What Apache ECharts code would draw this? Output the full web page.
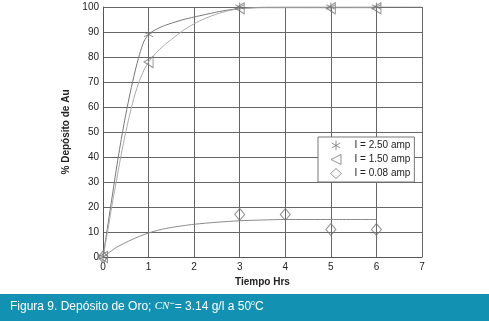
<!DOCTYPE html>
<html><head><meta charset="utf-8">
<script src="https://cdn.jsdelivr.net/npm/echarts@6/dist/echarts.min.js"></script>
<style>html,body{margin:0;padding:0;background:#fff}#c{width:489px;height:322px}</style>
</head><body><div id="c"></div>
<script>
// Measured points
const pts250 = [[0,0],[1,89],[3,100],[5,100],[6,100]];
const pts150 = [[0,0],[1,78],[3,99.5],[5,99.5],[6,99.5]];
const pts008 = [[0,0],[3,17],[4,17],[5,11],[6,11]];
// Fitted curves
const curve250 = [[0,0],[0.1,12],[0.2,24],[0.3,36],[0.4,47],[0.5,57],[0.6,66],[0.7,74],[0.8,81],[0.9,86.3],[1,89],[1.1,90.4],[1.2,91.4],[1.3,92.2],[1.4,92.9],[1.5,93.5],[1.75,94.9],[2,96],[2.25,97],[2.5,98],[2.75,98.8],[3,99.4],[3.5,99.9],[4,100],[5,100],[6,100],[7,100]];
const curve150 = [[0,0],[0.1,10],[0.2,21],[0.3,31],[0.4,41],[0.5,50],[0.6,58],[0.7,65],[0.8,70.5],[0.9,74.8],[1,78],[1.1,80.3],[1.2,82.3],[1.3,84],[1.4,85.6],[1.5,87],[1.75,90.5],[2,93.3],[2.25,95.5],[2.5,97.2],[2.75,98.5],[3,99.3],[3.5,99.7],[4,99.7],[5,99.7],[6,99.7]];
const curve008 = [[0,0],[0.15,2],[0.3,3.9],[0.5,5.8],[0.75,7.9],[1,9.6],[1.25,10.9],[1.5,11.8],[1.75,12.5],[2,13.1],[2.5,13.9],[3,14.5],[3.5,14.8],[4,15],[5,15],[6,15]];
const seriesNames = ['I = 2.50 amp','I = 1.50 amp','I = 0.08 amp'];
const xTicks = [0,1,2,3,4,5,6,7];
const yTicks = [0,10,20,30,40,50,60,70,80,90,100];

const asterisk = 'path://M5,0L5,10M0.7,2.5L9.3,7.5M0.7,7.5L9.3,2.5';
const triLeft = 'path://M10,0L0,5L10,10Z';
const markerStyle = {color:'rgba(0,0,0,0)', borderColor:'#777', borderWidth:1};

const chart = echarts.init(document.getElementById('c'));
chart.setOption({
  animation:false,
  textStyle:{fontFamily:'Liberation Sans, Arial, sans-serif'},
  grid:{left:103, right:67, top:7, bottom:65},
  xAxis:{type:'value', min:0, max:7, interval:1,
    name:'Tiempo Hrs', nameLocation:'middle', nameGap:15,
    nameTextStyle:{fontWeight:'bold', fontSize:10, color:'#222'},
    axisLine:{lineStyle:{color:'#555'}}, axisTick:{show:false},
    axisLabel:{fontSize:10, color:'#222', margin:5},
    splitLine:{show:true, lineStyle:{color:'#666', width:1}}},
  yAxis:{type:'value', min:0, max:100, interval:10,
    name:'% Depósito de Au', nameLocation:'middle', nameGap:20,
    nameTextStyle:{fontWeight:'bold', fontSize:10, color:'#222'},
    axisLine:{show:true, lineStyle:{color:'#555'}}, axisTick:{show:false},
    axisLabel:{fontSize:10, color:'#222', margin:4},
    splitLine:{show:true, lineStyle:{color:'#666', width:1}}},
  legend:{orient:'vertical', left:318, top:137, padding:[3,4,3,12],
    backgroundColor:'#fff', borderColor:'#777', borderWidth:1, borderRadius:0,
    itemGap:3, itemWidth:11, itemHeight:10,
    textStyle:{fontSize:10, color:'#222', padding:[0,0,0,8]},
    itemStyle:markerStyle,
    data:[{name:seriesNames[0], icon:asterisk},{name:seriesNames[1], icon:triLeft},{name:seriesNames[2], icon:'diamond'}]},
  graphic:[
    {type:'rect', left:0, top:294, shape:{width:489, height:27}, style:{fill:'#1391b3'}, silent:true},
    {type:'text', left:10, top:299, style:{
      text:'{a|Figura 9. Depósito de Oro; }{b|CN}{c|−}{a|= 3.14 g/l a 50}{d|o}{a|C}',
      rich:{
        a:{fill:'#fff', fontSize:12, fontFamily:'Liberation Sans, Arial, sans-serif'},
        b:{fill:'#fff', fontSize:11, fontStyle:'italic', fontFamily:'Liberation Serif, Times New Roman, serif'},
        c:{fill:'#fff', fontSize:9, verticalAlign:'top', padding:[0,0,6,0], fontFamily:'Liberation Sans, Arial, sans-serif'},
        d:{fill:'#fff', fontSize:7, padding:[0,0,6,0], fontFamily:'Liberation Sans, Arial, sans-serif'}
      }}}
  ],
  series:[
    {type:'line', data:curve250, smooth:0.25, showSymbol:false, lineStyle:{color:'#777', width:1}, silent:true, z:2},
    {type:'line', data:curve150, smooth:0.25, showSymbol:false, lineStyle:{color:'#aaa', width:1}, silent:true, z:2},
    {type:'line', data:curve008, smooth:0.25, showSymbol:false, lineStyle:{color:'#8a8a8a', width:1}, silent:true, z:2},
    {name:seriesNames[0], type:'scatter', data:pts250, symbol:asterisk, symbolSize:9, itemStyle:markerStyle, z:3},
    {name:seriesNames[1], type:'scatter', data:pts150, symbol:triLeft, symbolSize:[9,11], itemStyle:markerStyle, z:3},
    {name:seriesNames[2], type:'scatter', data:pts008, symbol:'diamond', symbolSize:[10,12], itemStyle:markerStyle, z:3}
  ]
});
</script></body></html>
